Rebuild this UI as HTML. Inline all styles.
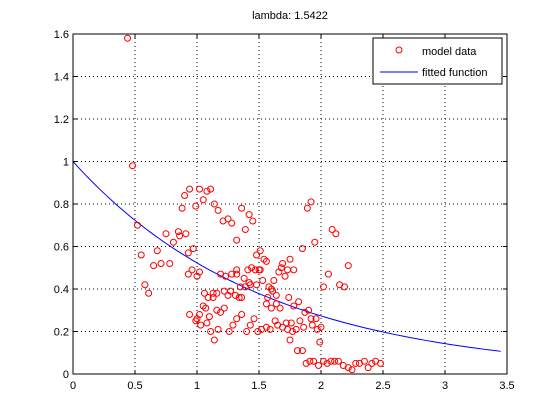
<!DOCTYPE html>
<html><head><meta charset="utf-8"><style>
body{margin:0;background:#fff;}
svg{display:block;font-family:"Liberation Sans",sans-serif;}
</style></head><body>
<svg id="chart" width="560" height="420">
<rect x="0" y="0" width="560" height="420" fill="#fff"/>
<text x="290" y="19" font-size="11" text-anchor="middle">lambda: 1.5422</text>
<g id="grid"></g>
<g id="curve"></g>
<g id="points"></g>
<rect x="73" y="34" width="434" height="340" fill="none" stroke="#000" stroke-width="1"/>
<g id="ticks"></g>
<g>
<rect x="373" y="38" width="129" height="46" fill="#fff" stroke="#000"/>
<circle cx="399" cy="50" r="3" fill="none" stroke="#f00"/>
<text x="422" y="55" font-size="11">model data</text>
<line x1="380" y1="72" x2="418" y2="72" stroke="#00f"/>
<text x="422" y="76" font-size="11">fitted function</text>
</g>
</svg>
<script>
const xTicks=[0,0.5,1,1.5,2,2.5,3,3.5];
const yTicks=[0,0.2,0.4,0.6,0.8,1,1.2,1.4,1.6];
const lambda=1.5422;
const curveMax=3.45;
const xs=[0.44,0.48,0.52,0.55,0.58,0.61,0.65,0.68,0.71,0.75,0.78,0.81,0.85,0.86,0.88,0.90,0.91,0.93,0.93,0.94,0.94,0.96,0.97,0.99,0.99,1.00,1.00,1.02,1.02,1.02,1.03,1.05,1.05,1.06,1.07,1.08,1.08,1.09,1.10,1.11,1.11,1.13,1.13,1.14,1.14,1.16,1.16,1.17,1.17,1.19,1.19,1.21,1.22,1.22,1.23,1.25,1.25,1.26,1.27,1.28,1.28,1.29,1.31,1.32,1.32,1.32,1.32,1.34,1.35,1.36,1.36,1.36,1.38,1.39,1.39,1.40,1.41,1.42,1.42,1.43,1.43,1.44,1.45,1.46,1.47,1.48,1.48,1.49,1.50,1.51,1.51,1.52,1.53,1.54,1.56,1.56,1.56,1.57,1.58,1.59,1.60,1.60,1.61,1.62,1.63,1.64,1.64,1.65,1.66,1.67,1.68,1.69,1.69,1.71,1.72,1.73,1.73,1.74,1.75,1.75,1.76,1.77,1.78,1.78,1.80,1.81,1.82,1.83,1.85,1.85,1.86,1.87,1.88,1.89,1.90,1.91,1.92,1.92,1.93,1.94,1.95,1.96,1.97,1.98,1.99,2.00,2.02,2.02,2.05,2.06,2.08,2.09,2.11,2.12,2.14,2.15,2.18,2.19,2.22,2.22,2.25,2.28,2.31,2.35,2.38,2.41,2.44,2.48];
const ys=[1.58,0.98,0.70,0.56,0.42,0.38,0.51,0.58,0.52,0.66,0.52,0.62,0.67,0.65,0.78,0.84,0.66,0.47,0.57,0.87,0.28,0.49,0.59,0.79,0.25,0.46,0.26,0.87,0.28,0.48,0.23,0.82,0.32,0.38,0.31,0.86,0.24,0.36,0.27,0.87,0.20,0.36,0.38,0.80,0.16,0.38,0.30,0.77,0.21,0.29,0.47,0.72,0.39,0.31,0.46,0.73,0.37,0.20,0.39,0.71,0.47,0.23,0.37,0.49,0.47,0.26,0.63,0.36,0.41,0.78,0.36,0.28,0.45,0.68,0.41,0.20,0.49,0.75,0.43,0.23,0.42,0.50,0.72,0.26,0.49,0.56,0.42,0.20,0.49,0.58,0.49,0.21,0.44,0.54,0.53,0.22,0.33,0.36,0.41,0.21,0.31,0.40,0.39,0.44,0.25,0.33,0.37,0.23,0.48,0.31,0.50,0.52,0.22,0.46,0.24,0.49,0.21,0.36,0.16,0.54,0.24,0.20,0.49,0.32,0.21,0.11,0.34,0.25,0.11,0.59,0.22,0.29,0.05,0.78,0.30,0.06,0.81,0.26,0.23,0.06,0.62,0.26,0.21,0.04,0.15,0.22,0.41,0.06,0.05,0.47,0.06,0.68,0.06,0.66,0.06,0.42,0.04,0.41,0.51,0.03,0.02,0.05,0.05,0.06,0.03,0.05,0.06,0.05];
const NS="http://www.w3.org/2000/svg";
const L=73,R=507,T=34,B=374,XMAX=3.5,YMAX=1.6;
function sx(v){return L+(R-L)*v/XMAX;}
function sy(v){return B-(B-T)*v/YMAX;}
function mk(tag,attrs,parent){const e=document.createElementNS(NS,tag);for(const k in attrs)e.setAttribute(k,attrs[k]);parent.appendChild(e);return e;}
const grid=document.getElementById('grid'),ticks=document.getElementById('ticks');
xTicks.forEach(t=>{
  const X=sx(t);
  if(t>0&&t<XMAX){const g=mk('line',{x1:X,y1:T,x2:X,y2:B,stroke:'#000','stroke-dasharray':'1,3','stroke-width':1},grid);
  
  }
  const a=mk('line',{x1:X,y1:B,x2:X,y2:B-4,stroke:'#000'},ticks);
  
  
  const b=mk('line',{x1:X,y1:T,x2:X,y2:T+4,stroke:'#000'},ticks);
  
  
  const lb=mk('text',{x:X,y:B+15,'font-size':11,'text-anchor':'middle'},ticks);lb.textContent=String(t);
  
  
});
yTicks.forEach(t=>{
  const Y=sy(t);
  if(t>0&&t<YMAX){const g=mk('line',{x1:L,y1:Y,x2:R,y2:Y,stroke:'#000','stroke-dasharray':'1,3','stroke-width':1},grid);
  
  }
  const a=mk('line',{x1:L,y1:Y,x2:L+4,y2:Y,stroke:'#000'},ticks);
  
  
  const b=mk('line',{x1:R,y1:Y,x2:R-4,y2:Y,stroke:'#000'},ticks);
  
  
  const lb=mk('text',{x:L-4,y:Y+4,'font-size':11,'text-anchor':'end'},ticks);lb.textContent=String(t);
  
  
});
let d='';
for(let i=0;i<=100;i++){const x=curveMax*i/100;d+=(i?'L':'M')+sx(x).toFixed(2)+','+sy(Math.exp(-x/lambda)).toFixed(2);}
const p=mk('path',{d:d,fill:'none',stroke:'#00f','stroke-width':1},document.getElementById('curve'));


const pts=document.getElementById('points');
xs.forEach((x,i)=>{
  const c=mk('circle',{cx:sx(x),cy:sy(ys[i]),r:3,fill:'none',stroke:'#f00','stroke-width':1},pts);
  
  
});
</script>
</body></html>
